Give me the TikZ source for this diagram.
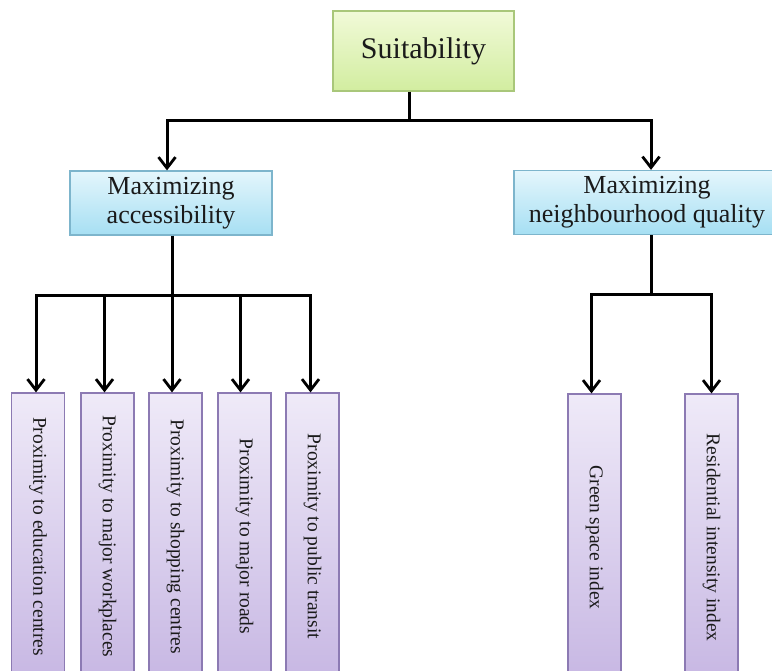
\documentclass[tikz,border=0pt]{standalone}
\usepackage{fontspec}
\setmainfont{Liberation Serif}
\usetikzlibrary{arrows.meta,shadings}
\definecolor{gtop}{HTML}{F1FAD8}
\definecolor{gbot}{HTML}{D2EDA0}
\definecolor{gbord}{HTML}{A9C77A}
\definecolor{btop}{HTML}{E4F6FC}
\definecolor{bbot}{HTML}{A6DFF3}
\definecolor{bbord}{HTML}{7DB5CC}
\definecolor{ptop}{HTML}{EFEAF8}
\definecolor{pbot}{HTML}{C7B7E3}
\definecolor{pbord}{HTML}{8C7AB3}
\definecolor{txt}{HTML}{1A1A1A}
\tikzset{
  topbox/.style={draw=gbord, line width=1.2pt, top color=gtop, bottom color=gbot,
    minimum width=181pt, minimum height=80pt, inner sep=0pt, text=txt,
    font=\fontsize{30}{34}\selectfont},
  midbox/.style={draw=bbord, line width=1.2pt, top color=btop, bottom color=bbot,
    minimum height=64pt, inner sep=0pt, text=txt, align=center,
    font=\fontsize{26}{29}\selectfont},
  leafbox/.style={draw=pbord, line width=1.2pt, top color=ptop, bottom color=pbot,
    minimum width=53pt, minimum height=287pt, inner sep=0pt, text=txt,
    font=\fontsize{19.5}{22}\selectfont},
  conn/.style={line width=3pt, black},
  arr/.style={conn, -{Straight Barb[length=11pt,width=17pt,line width=2.8pt]}}
}
\begin{document}
\begin{tikzpicture}[x=1pt,y=-1pt]
\useasboundingbox (0,0) rectangle (772,671);
\clip (0,0) rectangle (772,671);
\fill[white] (0,0) rectangle (772,671);

\node[topbox] (top) at (423.5,51) {Suitability};
\node[midbox, minimum width=202pt] (acc) at (171,203) {Maximizing\\accessibility};
\node[midbox, minimum width=266pt] (nq) at (647,202.5) {Maximizing\\neighbourhood quality};

\node[leafbox] (l1) at (38,536.5) {\rotatebox{-90}{Proximity to education centres}};
\node[leafbox] (l2) at (107.5,536.5) {\rotatebox{-90}{Proximity to major workplaces}};
\node[leafbox] (l3) at (175.5,536.5) {\rotatebox{-90}{Proximity to shopping centres}};
\node[leafbox] (l4) at (244.5,536.5) {\rotatebox{-90}{Proximity to major roads}};
\node[leafbox] (l5) at (312.5,536.5) {\rotatebox{-90}{Proximity to public transit}};
\node[leafbox] (r1) at (594.5,537.5) {\rotatebox{-90}{Green space index}};
\node[leafbox] (r2) at (711.5,537.5) {\rotatebox{-90}{Residential intensity index}};

% top level connectors
\coordinate (j0) at (409,121);
\draw[conn] (top.south -| j0) -- (j0);
\draw[arr] (j0) -| ([xshift=-4pt]acc.north);
\draw[arr] (j0) -| ([xshift=4pt]nq.north);

% left branch
\coordinate (j1) at (172,296);
\draw[conn] (acc.south -| j1) -- (j1);
\draw[arr] (j1) -| ([xshift=-2pt]l1.north);
\draw[arr] ([xshift=-3pt]l2.north |- j1) -- ([xshift=-3pt]l2.north);
\draw[arr] (j1) -- (j1 |- l3.north);
\draw[arr] ([xshift=-4pt]l4.north |- j1) -- ([xshift=-4pt]l4.north);
\draw[arr] (j1) -| ([xshift=-2pt]l5.north);

% right branch
\coordinate (j2) at (651,295);
\draw[conn] (nq.south -| j2) -- (j2);
\draw[arr] (j2) -| ([xshift=-3pt]r1.north);
\draw[arr] (j2) -| (r2.north);
\end{tikzpicture}
\end{document}
